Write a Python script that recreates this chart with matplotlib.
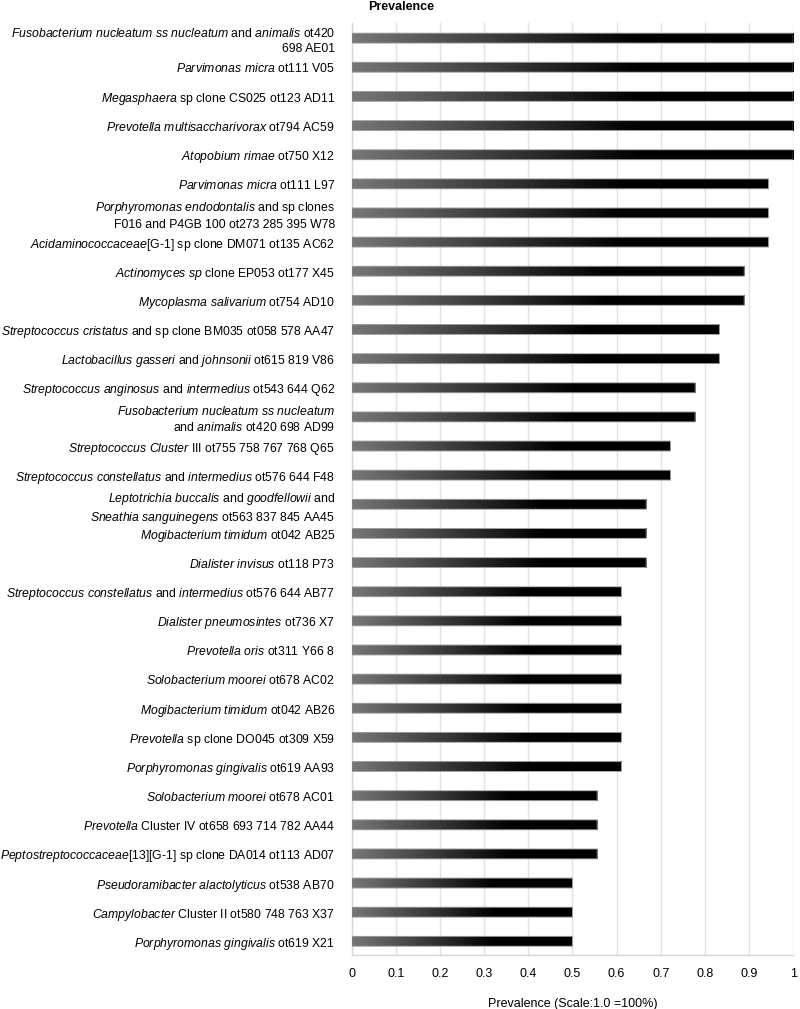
import numpy as np
import matplotlib
matplotlib.use("Agg")
import matplotlib.pyplot as plt
from matplotlib.colors import LinearSegmentedColormap
import re

plt.rcParams['font.family'] = ['Liberation Sans', 'DejaVu Sans']
plt.rcParams['mathtext.fontset'] = 'custom'
plt.rcParams['mathtext.rm'] = 'Liberation Sans'
plt.rcParams['mathtext.it'] = 'Liberation Sans:italic'
plt.rcParams['mathtext.bf'] = 'Liberation Sans:bold'

# Labels: text between * * is italic
labels = [
    "*Fusobacterium nucleatum ss nucleatum* and *animalis* ot420\n698 AE01",
    "*Parvimonas micra* ot111 V05",
    "*Megasphaera* sp clone CS025 ot123 AD11",
    "*Prevotella multisaccharivorax* ot794 AC59",
    "*Atopobium rimae* ot750 X12",
    "*Parvimonas micra* ot111 L97",
    "*Porphyromonas endodontalis* and sp clones\nF016 and P4GB 100 ot273 285 395 W78",
    "*Acidaminococcaceae*[G-1] sp clone DM071 ot135 AC62",
    "*Actinomyces sp* clone EP053 ot177 X45",
    "*Mycoplasma salivarium* ot754 AD10",
    "*Streptococcus cristatus* and sp clone BM035 ot058 578 AA47",
    "*Lactobacillus gasseri* and *johnsonii* ot615 819 V86",
    "*Streptococcus anginosus* and *intermedius* ot543 644 Q62",
    "*Fusobacterium nucleatum ss nucleatum*\nand *animalis* ot420 698 AD99",
    "*Streptococcus Cluster* III ot755 758 767 768 Q65",
    "*Streptococcus constellatus* and *intermedius* ot576 644 F48",
    "*Leptotrichia buccalis* and *goodfellowii* and\n*Sneathia sanguinegens* ot563 837 845 AA45",
    "*Mogibacterium timidum* ot042 AB25",
    "*Dialister invisus* ot118 P73",
    "*Streptococcus constellatus* and *intermedius* ot576 644 AB77",
    "*Dialister pneumosintes* ot736 X7",
    "*Prevotella oris* ot311 Y66 8",
    "*Solobacterium moorei* ot678 AC02",
    "*Mogibacterium timidum* ot042 AB26",
    "*Prevotella* sp clone DO045 ot309 X59",
    "*Porphyromonas gingivalis* ot619 AA93",
    "*Solobacterium moorei* ot678 AC01",
    "*Prevotella* Cluster IV ot658 693 714 782 AA44",
    "*Peptostreptococcaceae*[13][G-1] sp clone DA014 ot113 AD07",
    "*Pseudoramibacter alactolyticus* ot538 AB70",
    "*Campylobacter* Cluster II ot580 748 763 X37",
    "*Porphyromonas gingivalis* ot619 X21",
]

prevalence = [1.0, 1.0, 1.0, 1.0, 1.0,
              0.944, 0.944, 0.944,
              0.889, 0.889,
              0.833, 0.833,
              0.778, 0.778,
              0.722, 0.722,
              0.667, 0.667, 0.667,
              0.611, 0.611, 0.611, 0.611, 0.611, 0.611, 0.611,
              0.556, 0.556, 0.556,
              0.5, 0.5, 0.5]

xtick_vals = [0, 0.1, 0.2, 0.3, 0.4, 0.5, 0.6, 0.7, 0.8, 0.9, 1.0]
xtick_labels = ["0", "0.1", "0.2", "0.3", "0.4", "0.5", "0.6", "0.7", "0.8", "0.9", "1"]


def to_math(s):
    def repl(m):
        words = m.group(1).split(" ")
        return " ".join(r"$\mathit{%s}$" % w for w in words)
    return re.sub(r"\*(.+?)\*", repl, s)


fig = plt.figure(figsize=(8, 10.09), dpi=100)
ax = fig.add_axes([0.4396, 0.0535, 0.552, 0.9237])

y = np.arange(len(labels))
bars = ax.barh(y, prevalence, height=0.34, facecolor='none',
               edgecolor='#a0a0a0', linewidth=0.7, zorder=4)

cmap = LinearSegmentedColormap.from_list(
    "g", [(0.0, '#777777'), (0.65, '#000000'), (1.0, '#000000')])
grad = np.linspace(0, 1, 256).reshape(1, -1)
for p in bars.patches:
    p.set_snap(False)
    x0, y0 = p.get_x(), p.get_y()
    w, h = p.get_width(), p.get_height()
    im = ax.imshow(grad, cmap=cmap, aspect='auto', interpolation='bilinear',
                   extent=(x0, x0 + w, y0 + h, y0), zorder=3)

ax.set_xlim(0, 1.0)
ax.set_ylim(len(labels) - 0.53, -0.52)
ax.set_xticks(xtick_vals)
ax.set_xticklabels(xtick_labels, fontsize=9)
ax.set_yticks(y)
ax.set_yticklabels([to_math(l) for l in labels], fontsize=8.8)
for t in ax.get_yticklabels():
    t.set_linespacing(1.3)
ax.tick_params(axis='both', length=0)
ax.tick_params(axis='y', pad=12)
ax.tick_params(axis='x', pad=9)

ax.grid(axis='x', color='#e2e2e2', linewidth=1.0, zorder=0)
ax.set_axisbelow(True)
for s in ['top', 'right']:
    ax.spines[s].set_visible(False)
for s in ['left', 'bottom']:
    ax.spines[s].set_color('#d8d8d8')
    ax.spines[s].set_linewidth(1.0)

ax.set_xlabel("Prevalence (Scale:1.0 =100%)", fontsize=9, labelpad=13)
fig.text(0.46, 0.9995, "Prevalence", fontsize=9, fontweight='bold',
         ha='left', va='top')

fig.savefig("out.png", dpi=100)
